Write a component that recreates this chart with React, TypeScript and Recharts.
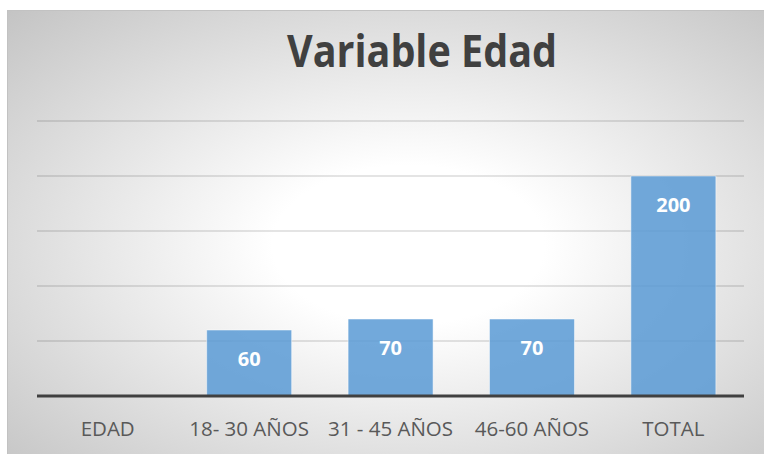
import { BarChart, Bar, XAxis, YAxis, CartesianGrid, LabelList, ReferenceLine } from 'recharts';

const categories = ['EDAD', '18- 30 AÑOS', '31 - 45 AÑOS', '46-60 AÑOS', 'TOTAL'];
const values = [0, 60, 70, 70, 200];
const yTicks = [0, 50, 100, 150, 200, 250];

const data = categories.map((name, i) => ({ name, value: values[i] }));

export default function App() {
  return (
    <div style={{ position: 'absolute', left: 0, top: 0, width: 764, height: 454, background: '#fff', overflow: 'hidden' }}>
      {/* chart frame with the radial fill */}
      <div
        style={{
          position: 'absolute',
          left: 7,
          top: 10,
          width: 770,
          height: 450,
          borderTop: '1px solid #c2c2c2',
          borderLeft: '1px solid #c2c2c2',
          background: 'radial-gradient(ellipse farthest-corner at 52% 52%, #ffffff 0%, #ffffff 24%, #c4c4c4 100%)',
        }}
      />
      <svg width={764} height={90} style={{ position: 'absolute', left: 0, top: 0 }}>
        <text
          x={422}
          y={67}
          textAnchor="middle"
          textLength={270}
          lengthAdjust="spacingAndGlyphs"
          fontFamily="'Open Sans', sans-serif"
          fontWeight={700}
          fontSize={44}
          fill="#404040"
        >
          Variable Edad
        </text>
      </svg>
      <div style={{ position: 'absolute', left: 0, top: 0 }}>
        <BarChart
          width={764}
          height={454}
          data={data}
          margin={{ top: 121, right: 20, bottom: 28, left: 37 }}
          barCategoryGap="20%"
        >
          <CartesianGrid vertical={false} stroke="#000" strokeOpacity={0.14} strokeWidth={1.5} />
          <YAxis hide domain={[0, 250]} ticks={yTicks} />
          <XAxis
            dataKey="name"
            height={30}
            axisLine={false}
            tickLine={false}
            tickMargin={19}
            tick={{ fill: '#595959', fontSize: 20.5, fontFamily: "'Open Sans', sans-serif" }}
            interval={0}
          />
          <Bar dataKey="value" fill="#5B9BD5" fillOpacity={0.86} stroke="#ffffff" strokeOpacity={0.5} isAnimationActive={false}>
            <LabelList
              dataKey="value"
              position="insideTop"
              offset={22}
              fill="#ffffff"
              fontSize={20}
              fontWeight={700}
              fontFamily="'Open Sans', sans-serif"
              formatter={(v: number) => (v > 0 ? v : '')}
            />
          </Bar>
          <ReferenceLine y={0} stroke="#404040" strokeWidth={3} />
        </BarChart>
      </div>
    </div>
  );
}
